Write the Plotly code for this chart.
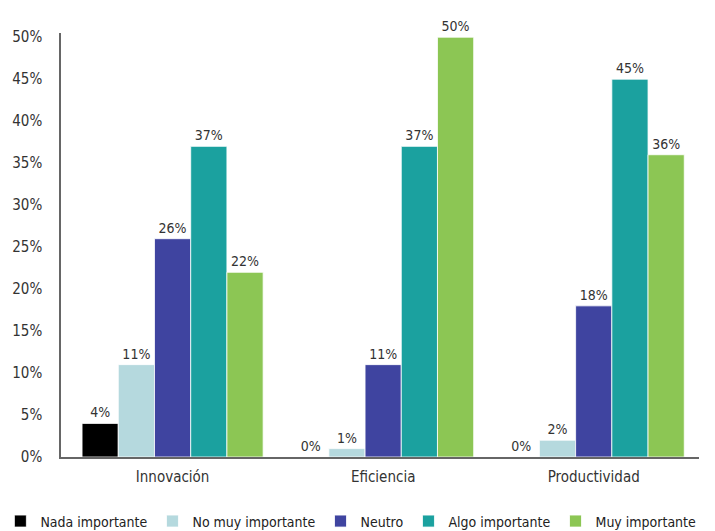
import plotly.graph_objects as go

categories = ["Innovación", "Eficiencia", "Productividad"]
series_names = ["Nada importante", "No muy importante", "Neutro", "Algo importante", "Muy importante"]
nada = [4, 0, 0]
no_muy = [11, 1, 2]
neutro = [26, 11, 18]
algo = [37, 37, 45]
muy = [22, 50, 36]
colors = ["#000000", "#b5d9de", "#3f44a0", "#1ba19f", "#8cc654"]
y_ticks = [0, 5, 10, 15, 20, 25, 30, 35, 40, 45, 50]

FONT = "DejaVu Sans Condensed, Liberation Sans Narrow, Roboto, sans-serif"

fig = go.Figure()
for name, vals, col in zip(series_names, [nada, no_muy, neutro, algo, muy], colors):
    fig.add_trace(go.Bar(
        name=name, x=categories, y=vals,
        marker=dict(color=col, line=dict(color="white", width=0.8)),
        text=[f"{v}%" for v in vals], textposition="outside",
        textfont=dict(family=FONT, size=14, color="#333333"),
        cliponaxis=False,
    ))

fig.update_layout(
    width=715, height=531,
    margin=dict(l=61, r=16, t=33, b=74, autoexpand=False),
    paper_bgcolor="white", plot_bgcolor="white",
    barmode="group", bargap=0.14, bargroupgap=0,
    font=dict(family=FONT, size=14, color="#333333"),
    showlegend=True,
    legend=dict(orientation="h", x=-0.095, xanchor="left", y=-0.152, yanchor="middle",
                font=dict(family=FONT, size=14, color="#222222"),
                itemwidth=30, traceorder="normal"),
    xaxis=dict(range=[-0.53, 2.5], showline=True, linecolor="#666666", linewidth=1.5,
               ticks="", showgrid=False, ticklabelstandoff=5,
               tickfont=dict(family=FONT, size=15, color="#333333")),
    yaxis=dict(range=[0, 50.5], tickvals=y_ticks, ticktext=[f"{t}%" for t in y_ticks],
               showline=True, linecolor="#666666", linewidth=1.5, showgrid=False,
               zeroline=False, ticks="", ticklabelstandoff=14,
               tickfont=dict(family=FONT, size=15, color="#333333")),
)

fig.write_html("out.html")
